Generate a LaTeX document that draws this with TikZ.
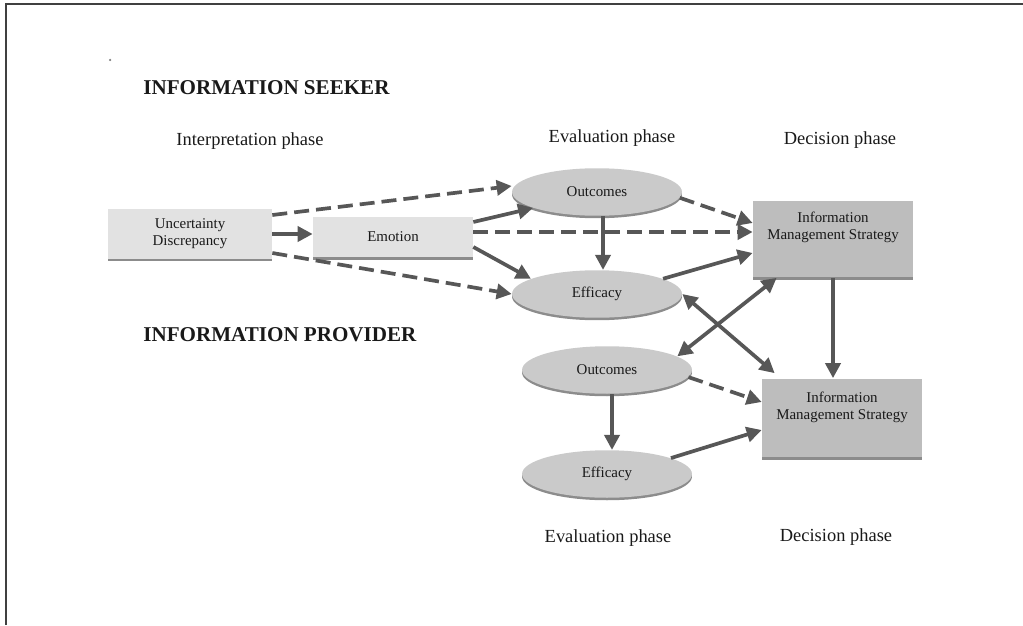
\documentclass[tikz,border=0pt]{standalone}
\usepackage{fontspec}
\setmainfont{Liberation Serif}
\usetikzlibrary{arrows.meta}
\usetikzlibrary{shapes.geometric}
\usetikzlibrary{shadows}
\usetikzlibrary{positioning}
\definecolor{arrowgray}{HTML}{575757}
\definecolor{lightbox}{HTML}{E2E2E2}
\definecolor{darkbox}{HTML}{BDBDBD}
\definecolor{ovalgray}{HTML}{CACACA}
\definecolor{edgegray}{HTML}{8C8C8C}

\begin{document}
\begin{tikzpicture}[x=0.02cm,y=-0.02cm,
  heading/.style={font=\bfseries\fontsize{12}{14}\selectfont,text=black!90,anchor=west,inner sep=0pt},
  phase/.style={font=\fontsize{10.5}{12}\selectfont,text=black!90,inner sep=0pt},
  boxtext/.style={font=\fontsize{8.5}{9.5}\selectfont,align=center,text=black!90},
  lightrect/.style={boxtext,rectangle,fill=lightbox,inner sep=0pt,drop shadow={shadow xshift=0pt,shadow yshift=-0.05cm,fill=edgegray,opacity=1}},
  darkrect/.style={rectangle,fill=darkbox,minimum width=3.2cm,inner sep=0pt,drop shadow={shadow xshift=0pt,shadow yshift=-0.05cm,fill=edgegray,opacity=1}},
  oval/.style={boxtext,ellipse,fill=ovalgray,minimum width=3.4cm,minimum height=0.95cm,inner sep=0pt,drop shadow={shadow xshift=0pt,shadow yshift=-0.05cm,fill=edgegray,opacity=1}},
  link/.style={draw=arrowgray,line width=2.1pt,-{Triangle[length=0.3cm,width=0.3cm]}},
  both/.style={link,{Triangle[length=0.3cm,width=0.3cm]}-{Triangle[length=0.3cm,width=0.3cm]}},
  dashlink/.style={link,dash pattern=on 0.3cm off 0.14cm}]
\useasboundingbox (0,0) rectangle (1023,625);
\draw[black!75,line width=1.4pt] (6,625) -- (6,4) -- (1023,4);
\fill[black!50] (110,60) circle (0.025cm);

\node[heading] (seeker) at (143,88) {INFORMATION SEEKER};
\node[heading] (provider) at (143,335) {INFORMATION PROVIDER};
\node[phase] (interp) at (250,141) {Interpretation phase};
\node[phase] (evalS) at (612,138) {Evaluation phase};
\node[phase] (decS) at (840,140) {Decision phase};
\node[phase] (evalP) at (608,538) {Evaluation phase};
\node[phase] (decP) at (836,537) {Decision phase};

\node[lightrect,minimum width=3.28cm,minimum height=1.0cm] (ud) at (190,234) {Uncertainty\\Discrepancy};
\node[lightrect,minimum width=3.2cm,minimum height=0.82cm] (emo) at (393,237) {Emotion};
\node[oval] (outS) at (597,192) {Outcomes};
\node[oval] (effS) at (597,294) {Efficacy};
\node[darkrect,minimum height=1.54cm] (imsS) at (833,239) {};
\node[boxtext,below=0.12cm of imsS.north] (imsStext) {Information\\Management Strategy};
\node[oval] (outP) at (607,370) {Outcomes};
\node[oval] (effP) at (607,474) {Efficacy};
\node[darkrect,minimum height=1.58cm] (imsP) at (842,418) {};
\node[boxtext,below=0.16cm of imsP.north] (imsPtext) {Information\\Management Strategy};

\draw[dashlink] ([yshift=0.38cm]ud.east) -- ([yshift=0.12cm]outS.west);
\draw[link] (ud.east) -- (ud.east -| emo.west);
\draw[dashlink] ([yshift=-0.38cm]ud.east) -- (effS.west);
\draw[link] ([yshift=0.3cm]emo.east) -- (outS.194);
\draw[dashlink] ([yshift=0.1cm]emo.east) -- ([yshift=0.1cm]emo.east -| imsS.west);
\draw[link] ([yshift=-0.2cm]emo.east) -- (effS.167);
\draw[link] ([xshift=0.12cm]outS.south) -- ([xshift=0.12cm]effS.north);
\draw[dashlink] (outS.-4) -- ([yshift=0.32cm]imsS.west);
\draw[link] (effS.13) -- ([yshift=-0.28cm]imsS.west);
\draw[both] (effS.east) -- ([xshift=0.26cm,yshift=0.1cm]imsP.north west);
\draw[both] (outP.11) -- ([xshift=0.48cm]imsS.south west);
\draw[link] (imsS.south) -- (imsS.south |- imsP.north);
\draw[link] ([xshift=0.1cm]outP.south) -- ([xshift=0.1cm]effP.north);
\draw[dashlink] (outP.-5) -- ([yshift=0.32cm]imsP.west);
\draw[link] (effP.14) -- ([yshift=-0.24cm]imsP.west);
\end{tikzpicture}
\end{document}
